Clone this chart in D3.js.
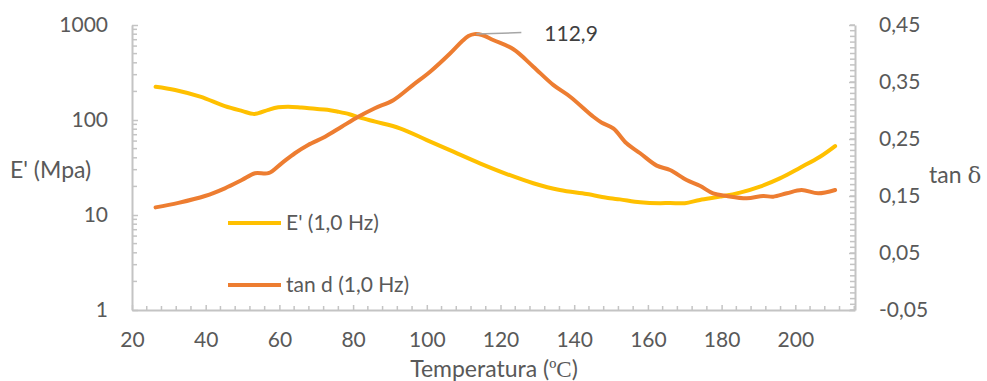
<!DOCTYPE html>
<html>
<head>
<meta charset="utf-8">
<script src="https://cdn.jsdelivr.net/npm/d3@7"></script>
<style>
  html, body { margin: 0; padding: 0; background: #ffffff; }
  svg { display: block; font-family: Lato, "Open Sans", sans-serif; }
  .axis path.domain, .axis line { stroke: #c4c4c4; }
  .axis path.domain { stroke-width: 2; }
  .axis line { stroke-width: 1.5; }
  .axis text { fill: #595959; font-size: 21px; font-family: Lato, sans-serif; }
</style>
</head>
<body>
<svg id="chart" width="987" height="381"></svg>
<script>
// Storage modulus E' (MPa) against temperature, 1.0 Hz
const modulusTemp = [26.4, 31.7, 38.5, 45.2, 50.0, 52.9, 54.3, 57.0, 59.7, 62.4, 66.0, 69.7, 73.0, 76.0, 79.0,
  81.9, 86.0, 92.7, 100.0, 107.2, 114.4, 121.7, 128.9, 136.1, 143.4, 149.7, 152.4, 157.9, 163.3, 166.0,
  170.0, 174.1, 179.6, 185.0, 190.4, 195.8, 201.3, 206.7, 210.8];
const modulusValues = [224, 207, 176, 140, 124, 116, 118, 128, 136, 138, 135, 131, 128, 122, 115,
  106, 96, 81.7, 61.5, 46.4, 35, 27, 21.6, 18.3, 16.6, 15, 14.6, 13.6, 13.3, 13.4,
  13.3, 14.4, 15.6, 17.2, 19.9, 24.3, 31.5, 41.1, 53.2];

// Loss factor tan δ against temperature, 1.0 Hz
const tanTemp = [26.4, 32.6, 39.8, 45.2, 49.8, 53.4, 57.0, 60.6, 64.2, 67.8, 72.4, 76.9, 81.4, 85.9,
  90.9, 96.3, 100.9, 106.3, 109.5, 111.3, 112.9, 115.0, 118.0, 123.5, 128.9, 134.3, 138.9, 145.2, 147.5, 150.6,
  154.2, 157.9, 162.4, 166.0, 170.5, 174.1, 177.7, 181.4, 186.8, 191.3, 194.0, 197.7, 201.7, 206.2, 210.8];
const tanValues = [0.130, 0.138, 0.150, 0.1635, 0.178, 0.190, 0.190, 0.2074, 0.225, 0.2395, 0.254, 0.2716, 0.289, 0.304,
  0.318, 0.345, 0.368, 0.400, 0.421, 0.4305, 0.434, 0.4325, 0.4237, 0.4074, 0.3769, 0.345, 0.3242, 0.289, 0.2786, 0.2688,
  0.2425, 0.225, 0.2033, 0.1956, 0.178, 0.168, 0.1547, 0.150, 0.146, 0.150, 0.1488, 0.1547, 0.1605, 0.1547, 0.1605];

// Peak of tan δ, labelled with its temperature
const peakTemp = 112.9;

// Axis ticks
const tempTicks = [20, 40, 60, 80, 100, 120, 140, 160, 180, 200];
const modulusTicks = [1, 10, 100, 1000];
const tanTicks = [-0.05, 0.05, 0.15, 0.25, 0.35, 0.45];

const seriesNames = ["E' (1,0 Hz)", "tan d (1,0 Hz)"];
const colors = ["#FFC000", "#ED7D31"];

const svg = d3.select("#chart");

const x = d3.scaleLinear().domain([20, 216.2]).range([132, 855]);
const yL = d3.scaleLog().domain([1, 1000]).range([310, 25]);
const yR = d3.scaleLinear().domain([-0.05, 0.45]).range([310, 25]);

// Decimal comma, plain hyphen for negatives
const comma = v => (v < 0 ? "-" : "") + d3.format(".2f")(Math.abs(v)).replace(".", ",");

// Minor tick positions
const tempMinor = d3.range(24, 216.1, 4).filter(t => t % 20 !== 0);
const modulusMinor = [];
[1, 10, 100].forEach(d => { for (let k = 2; k <= 9; k++) modulusMinor.push(d * k); });
const tanMinor = d3.range(-5, 46, 1).map(v => v / 100);

// Bottom axis
const gx = svg.append("g").attr("class", "axis").attr("transform", "translate(0,310)");
gx.call(d3.axisBottom(x).tickValues(tempTicks).tickSize(-5).tickPadding(22).tickSizeOuter(0));
gx.append("g").selectAll("line").data(tempMinor).join("line")
  .attr("x1", d => x(d)).attr("x2", d => x(d)).attr("y1", 0).attr("y2", -4);

// Left axis (log)
const gl = svg.append("g").attr("class", "axis").attr("transform", "translate(132,0)");
gl.call(d3.axisLeft(yL).tickValues(modulusTicks).tickFormat(d3.format("d")).tickSize(-6).tickPadding(24).tickSizeOuter(0));
gl.append("g").selectAll("line").data(modulusMinor).join("line")
  .attr("x1", 0).attr("x2", 5).attr("y1", d => yL(d)).attr("y2", d => yL(d));

// Right axis
const gr = svg.append("g").attr("class", "axis").attr("transform", "translate(855,0)");
gr.call(d3.axisRight(yR).tickValues(tanTicks).tickFormat(comma).tickSize(-6).tickPadding(24).tickSizeOuter(0));
gr.append("g").selectAll("line").data(tanMinor).join("line")
  .attr("x1", 0).attr("x2", -5).attr("y1", d => yR(d)).attr("y2", d => yR(d));

// Axis titles
svg.append("text").attr("x", 10).attr("y", 170).attr("dy", "0.35em")
  .attr("fill", "#595959").style("font-size", "23px").text("E' (Mpa)");
svg.append("text").attr("x", 929).attr("y", 175).attr("dy", "0.35em")
  .attr("fill", "#595959").style("font-size", "23px")
  .html('tan <tspan font-family="DejaVu Serif">δ</tspan>');
svg.append("text").attr("x", 494).attr("y", 369).attr("dy", "0.35em").attr("text-anchor", "middle")
  .attr("fill", "#595959").style("font-size", "23px")
  .html('Temperatura (<tspan font-family="Liberation Serif">ºC</tspan>)');

// Series lines
const lineL = d3.line().x(d => x(d[0])).y(d => yL(d[1])).curve(d3.curveCatmullRom.alpha(0.5));
const lineR = d3.line().x(d => x(d[0])).y(d => yR(d[1])).curve(d3.curveCatmullRom.alpha(0.5));

svg.append("path").datum(d3.zip(modulusTemp, modulusValues))
  .attr("d", lineL).attr("fill", "none").attr("stroke", colors[0])
  .attr("stroke-width", 4).attr("stroke-linecap", "round").attr("stroke-linejoin", "round");
svg.append("path").datum(d3.zip(tanTemp, tanValues))
  .attr("d", lineR).attr("fill", "none").attr("stroke", colors[1])
  .attr("stroke-width", 4).attr("stroke-linecap", "round").attr("stroke-linejoin", "round");

// Peak label with leader line
const peakVal = tanValues[tanTemp.indexOf(peakTemp)];
const px = x(peakTemp), py = yR(peakVal);
svg.append("line").attr("x1", px + 2).attr("y1", py).attr("x2", px + 47).attr("y2", py - 1.5)
  .attr("stroke", "#a6a6a6").attr("stroke-width", 1.5);
svg.append("text").attr("x", px + 70).attr("y", py).attr("dy", "0.35em")
  .attr("fill", "#404040").style("font-size", "21px").text(d3.format(".1f")(peakTemp).replace(".", ","));

// Legend
const legend = svg.append("g").selectAll("g").data(seriesNames).join("g")
  .attr("transform", (d, i) => `translate(228,${223 + i * 62})`);
legend.append("line").attr("x1", 0).attr("x2", 53).attr("y1", 0).attr("y2", 0)
  .attr("stroke", (d, i) => colors[i]).attr("stroke-width", 4);
legend.append("text").attr("x", 58).attr("y", 0).attr("dy", "0.35em")
  .attr("fill", "#595959").style("font-size", "21px").text(d => d);
</script>
</body>
</html>
